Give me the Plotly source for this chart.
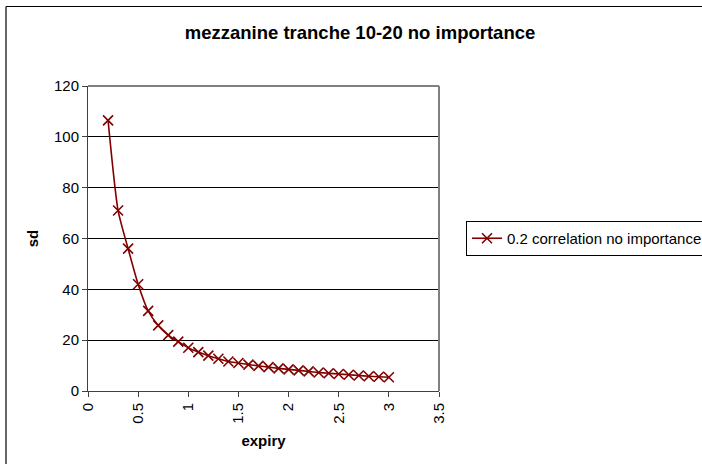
import plotly.graph_objects as go

expiry = [0.2, 0.3, 0.4, 0.5, 0.6, 0.7, 0.8, 0.9, 1.0, 1.1, 1.2, 1.3, 1.4, 1.5,
          1.6, 1.7, 1.8, 1.9, 2.0, 2.1, 2.2, 2.3, 2.4, 2.5, 2.6, 2.7, 2.8, 2.9, 3.0]
sd = [106.5, 71.0, 56.0, 42.0, 31.5, 25.8, 22.0, 19.4, 17.0, 15.3, 13.9, 12.7, 11.6, 11.0,
      10.4, 9.9, 9.4, 8.9, 8.5, 8.1, 7.7, 7.3, 7.0, 6.7, 6.4, 6.1, 5.8, 5.6, 5.4]
series_name = "0.2 correlation no importance"
title = "mezzanine tranche 10-20 no importance"
x_ticks = [0, 0.5, 1, 1.5, 2, 2.5, 3, 3.5]
y_ticks = [0, 20, 40, 60, 80, 100, 120]

W, H = 702, 464
L, R, T, B = 88, 263, 86, 73
pw, ph = W - L - R, H - T - B

def px_x(p):
    return (p - L) / pw

def px_y(p):
    return (H - B - p) / ph

color = "#800000"
fig = go.Figure()
fig.add_trace(go.Scatter(
    x=expiry, y=sd, name=series_name, mode="lines+markers",
    line=dict(color=color, width=1.6, shape="spline", smoothing=0.6),
    marker=dict(symbol="x-thin", size=10, line=dict(color=color, width=1.6)),
))

font = "Liberation Sans, Arial, sans-serif"
fig.update_layout(
    width=W, height=H,
    margin=dict(l=L, r=R, t=T, b=B, autoexpand=False),
    paper_bgcolor="white", plot_bgcolor="white",
    font=dict(family=font, size=15, color="black"),
    title=dict(text="<b>" + title + "</b>", x=360 / W, xanchor="center",
               y=1 - 33 / H, yanchor="middle", font=dict(size=18.5, family=font)),
    showlegend=True,
    legend=dict(x=px_x(466), y=px_y(238.5), xanchor="left", yanchor="middle",
                bordercolor="black", borderwidth=1, bgcolor="white",
                font=dict(size=15, family=font), itemwidth=30,
                tracegroupgap=0),
    xaxis=dict(range=[0, 3.5], tickvals=x_ticks, ticktext=[str(v) for v in x_ticks],
               tickangle=-90, showgrid=False, zeroline=False, showline=True,
               linecolor="#404040", linewidth=1, ticks="outside", ticklen=5,
               tickcolor="#404040", mirror=False, tickfont=dict(size=15),
               title=dict(text="<b>expiry</b>", font=dict(size=15), standoff=12)),
    yaxis=dict(range=[0, 120], tickvals=y_ticks, showgrid=True, gridcolor="black",
               gridwidth=1, zeroline=False, showline=True, linecolor="#404040",
               linewidth=1, ticks="outside", ticklen=5, tickcolor="#404040",
               tickfont=dict(size=15),
               title=dict(text="<b>sd</b>", font=dict(size=15), standoff=11)),
    shapes=[
        dict(type="line", xref="paper", yref="paper",
             x0=px_x(6), x1=px_x(6), y0=px_y(464), y1=px_y(6.5),
             line=dict(color="black", width=1.2)),
        dict(type="line", xref="paper", yref="paper",
             x0=px_x(6), x1=px_x(702), y0=px_y(6.5), y1=px_y(6.5),
             line=dict(color="black", width=1.2)),
        dict(type="line", xref="paper", yref="paper", x0=1, x1=1, y0=0, y1=1,
             line=dict(color="#808080", width=2)),
        dict(type="line", xref="paper", yref="paper", x0=0, x1=1, y0=1, y1=1,
             line=dict(color="#808080", width=2)),
    ],
)

fig.write_html("out.html")
